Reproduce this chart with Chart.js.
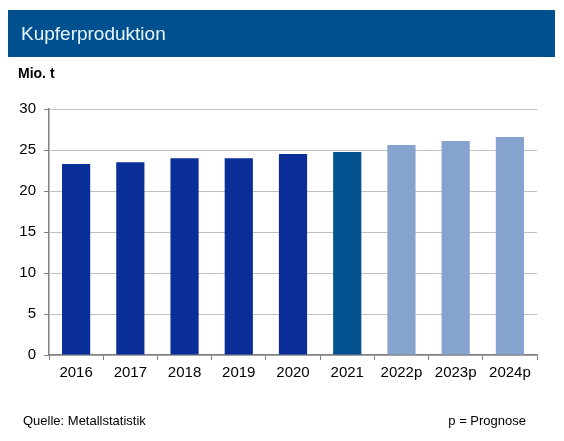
<!DOCTYPE html>
<html><head><meta charset="utf-8">
<script src="https://cdn.jsdelivr.net/npm/chart.js@4"></script>
<style>
html,body{margin:0;padding:0;background:#fff;}
#wrap{position:relative;width:564px;height:441px;overflow:hidden;font-family:"Liberation Sans",Arial,sans-serif;}
#bar{position:absolute;left:8px;top:10px;width:547px;height:47px;background:#00508F;}
#title{position:absolute;left:21px;top:23px;color:#E8F6FF;font-size:19px;}
#unit{position:absolute;left:18px;top:65px;font-weight:bold;font-size:14px;color:#000;}
#src{position:absolute;left:23px;top:413px;font-size:13px;color:#000;}
#note{position:absolute;left:420px;top:413px;width:106px;text-align:right;font-size:13px;color:#000;}
canvas{position:absolute;left:0;top:0;}
</style></head>
<body><div id="wrap">
<canvas id="c" width="564" height="441"></canvas>
<div id="bar"></div><div id="title">Kupferproduktion</div>
<div id="unit">Mio. t</div>
<div id="src">Quelle: Metallstatistik</div>
<div id="note">p = Prognose</div>
</div>
<script>
const categories = ["2016","2017","2018","2019","2020","2021","2022p","2023p","2024p"];
const production = [23.3, 23.5, 24.0, 24.0, 24.5, 24.75, 25.6, 26.1, 26.6];
const barColors = ["#0A2E98","#0A2E98","#0A2E98","#0A2E98","#0A2E98","#03518F","#85A3CE","#85A3CE","#85A3CE"];
const yTicks = [0,5,10,15,20,25,30];

new Chart(document.getElementById('c'), {
  type: 'bar',
  data: { labels: categories, datasets: [{ data: production, backgroundColor: barColors, categoryPercentage: 1, barPercentage: 0.52 }] },
  options: {
    responsive: false, animation: false, devicePixelRatio: 1,
    layout: { padding: { left: 0, top: 109, right: 27, bottom: 56 } },
    plugins: { legend: { display: false }, tooltip: { enabled: false } },
    scales: {
      y: {
        min: 0, max: 30,
        afterFit: s => { s.width = 49; },
        afterBuildTicks: s => { s.ticks = yTicks.map(v => ({ value: v })); },
        grid: { color: '#C0C0C0', tickColor: '#808080', tickLength: 5, lineWidth: 1 },
        border: { color: '#808080', width: 1.5 },
        ticks: { color: '#000', font: { family: 'Liberation Sans', size: 15 }, padding: 8 }
      },
      x: {
        afterFit: s => { s.height = 30; },
        grid: { drawOnChartArea: false, tickColor: '#808080', tickLength: 5, offset: true },
        border: { color: '#808080', width: 1.5 },
        ticks: { color: '#000', font: { family: 'Liberation Sans', size: 15 }, padding: 4, maxRotation: 0 }
      }
    }
  }
});
</script>
</body></html>
